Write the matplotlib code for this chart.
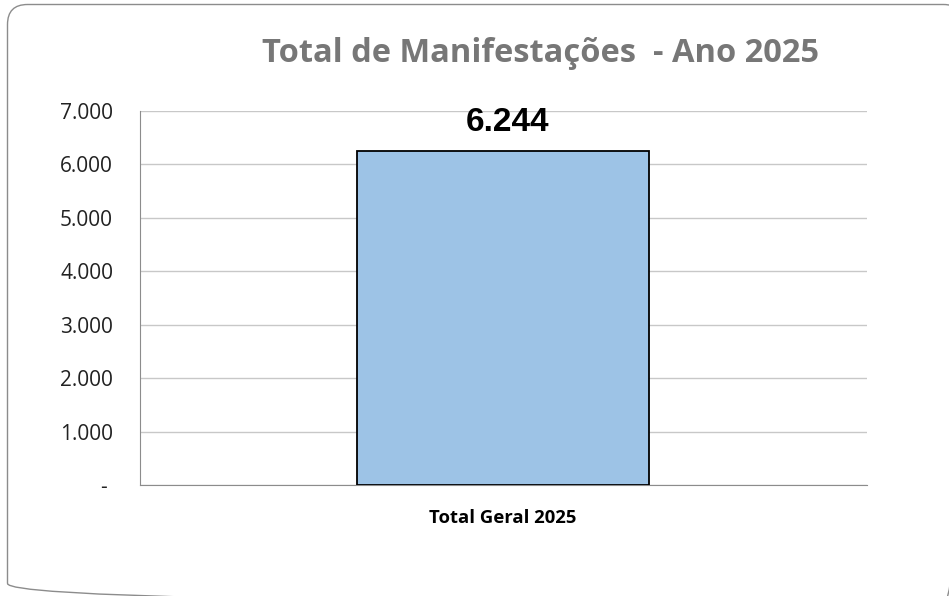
import matplotlib
matplotlib.use("Agg")
import matplotlib.pyplot as plt
from matplotlib.patches import PathPatch
from matplotlib.path import Path
from matplotlib.ticker import FuncFormatter

categories = ["Total Geral 2025"]
values = [6244]
title = "Total de Manifestações  - Ano 2025"
yticks = [0, 1000, 2000, 3000, 4000, 5000, 6000, 7000]

W, H = 949, 596
fig = plt.figure(figsize=(W/100, H/100), dpi=100)
fig.patch.set_facecolor("white")

# rounded frame drawn in pixel coordinates (extends past right/bottom edges)
bg = fig.add_axes([0, 0, 1, 1])
bg.set_autoscale_on(False)
bg.set_xlim(0, W)
bg.set_ylim(H, 0)
bg.axis("off")
x0, y0, x1, y1, r = 7.5, 4.5, 963.5, 603.5, 20
verts = [(x0, y1 - r), (x0, y0 + r), (x0, y0), (x0 + r, y0), (x1 - r, y0), (x1, y0), (x1, y0 + r),
         (x1, y1 - r), (x1, y1), (x1 - r, y1), (x0 + r, y1), (x0, y1), (x0, y1 - r)]
codes = [Path.MOVETO, Path.LINETO, Path.CURVE3, Path.CURVE3, Path.LINETO, Path.CURVE3, Path.CURVE3,
         Path.LINETO, Path.CURVE3, Path.CURVE3, Path.LINETO, Path.CURVE3, Path.CURVE3]
bg.add_patch(PathPatch(Path(verts, codes), fill=False, edgecolor="#8c8c8c", linewidth=1.0))

ax = fig.add_axes([140/W, 1-485/H, 727/W, 374/H])
x = range(len(categories))
bars = ax.bar(x, values, width=0.4016, color="#9dc3e6", edgecolor="black", linewidth=1.3, zorder=3)
ax.set_xlim(-0.4993, 0.5007)
ax.set_ylim(0, 7000)
ax.set_yticks(yticks)

def fmt(v, pos):
    if v == 0:
        return "- "
    return f"{int(v):,}".replace(",", ".")

ax.yaxis.set_major_formatter(FuncFormatter(fmt))
ax.grid(axis="y", color="#c8c8c8", linewidth=1.0, zorder=0)
for s in ["top", "right"]:
    ax.spines[s].set_visible(False)
ax.spines["left"].set_color("#8c8c8c")
ax.spines["bottom"].set_color("#8c8c8c")
ax.tick_params(axis="y", length=0, pad=19.4, labelsize=15, labelcolor="#222222")
ax.tick_params(axis="x", length=0, pad=17.5)
for lbl in ax.get_yticklabels():
    lbl.set_family(["Open Sans", "DejaVu Sans"])
ax.set_xticks(list(x))
ax.set_xticklabels(categories, fontsize=13.3, fontweight="bold", family=["Open Sans", "DejaVu Sans"])

for b, v in zip(bars, values):
    ax.annotate(fmt(v, None), (b.get_x() + b.get_width()/2, v), xytext=(3.6, 14.8),
                textcoords="offset points", ha="center", va="baseline",
                fontsize=24, fontweight="bold", family=["Liberation Sans", "DejaVu Sans"])

bg.text(540.5, 62, title, ha="center", va="baseline", fontsize=23.5,
        fontweight="bold", color="#777777",
        family=["Open Sans", "DejaVu Sans"])

fig.savefig("out.png", dpi=100)
